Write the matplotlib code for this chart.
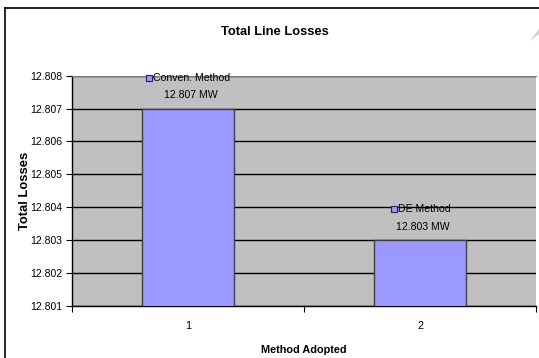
import matplotlib
matplotlib.use('Agg')
import matplotlib.pyplot as plt
from matplotlib.lines import Line2D
from matplotlib.patches import Polygon

# Total line losses for the two methods
methods = ['1', '2']
losses = [12.807, 12.803]
names = ['Conven. Method', 'DE Method']
yticks = [12.801, 12.802, 12.803, 12.804, 12.805, 12.806, 12.807, 12.808]

plt.rcParams['font.family'] = ['Liberation Sans', 'DejaVu Sans']

fig = plt.figure(figsize=(5.39, 3.58), dpi=100)
ax = fig.add_axes([72/539, 1-306/358, (536-72)/539, (306-75.6)/358])
ax.set_facecolor('#C0C0C0')

x = [1, 2]
ax.bar(x, losses, width=0.4, color='#9999FF', edgecolor='#404040', linewidth=1, zorder=3)
ax.set_ylim(12.801, 12.808)
ax.set_xlim(0.5, 2.5)
ax.set_yticks(yticks)
ax.set_yticklabels(['%.3f' % v for v in yticks], fontsize=7.5)
ax.yaxis.grid(True, color='black', linewidth=1, zorder=0)
ax.set_axisbelow(True)

ax.set_xticks([0.5, 1.5, 2.5])
ax.set_xticklabels([])
ax.set_xticks(x, minor=True)
ax.set_xticklabels(methods, minor=True, fontsize=7.8)
ax.tick_params(axis='x', which='minor', length=0, pad=10.5)
ax.tick_params(axis='x', which='major', length=4, width=0.8, direction='out')
ax.tick_params(axis='y', length=4, width=0.8, pad=3)

for s in ['left', 'bottom']:
    ax.spines[s].set_color('black')
    ax.spines[s].set_linewidth(1)
ax.spines['top'].set_color('#808080')
ax.spines['right'].set_visible(False)

ax.set_ylabel('Total Losses', fontsize=9.4, fontweight='bold')
ax.yaxis.set_label_coords(-0.089, 0.5)
fig.text(304/539, 1-350/358, 'Method Adopted', fontsize=7.8, fontweight='bold', ha='center', va='center')
fig.text(275/539, 1-32/358, 'Total Line Losses', fontsize=9.3, fontweight='bold', ha='center', va='center')

# data labels with legend key
fig.canvas.draw()
for xi, v, n in zip(x, losses, names):
    ax.annotate('%.3f MW' % v, (xi, v), xytext=(3, 13.5), textcoords='offset pixels',
                ha='center', va='center', fontsize=7.6, zorder=5, annotation_clip=False)
    t = ax.annotate(n, (xi, v), xytext=(4, 31), textcoords='offset pixels',
                    ha='center', va='center', fontsize=7.6, zorder=5, annotation_clip=False)
    bb = t.get_window_extent(fig.canvas.get_renderer())
    px, py = ax.transData.transform((xi, v))
    ax.plot([(bb.x0 - 4)], [py + 31], marker='s', markersize=5, color='#9999FF',
            markeredgecolor='#202060', markeredgewidth=0.8, transform=None, clip_on=False, zorder=6)

# outer chart border
fig.add_artist(Line2D([5/539, 1], [1-7.5/358, 1-7.5/358], color='black', linewidth=1.2))
fig.add_artist(Line2D([5/539, 5/539], [0, 1-7.5/358], color='black', linewidth=1.2))
fig.add_artist(Polygon([[530/539, 1-41/358], [539/539, 1-29/358], [539/539, 1-34/358]],
                       closed=True, facecolor='#D0D0D0', edgecolor='none'))

fig.savefig('out.png', dpi=100)
